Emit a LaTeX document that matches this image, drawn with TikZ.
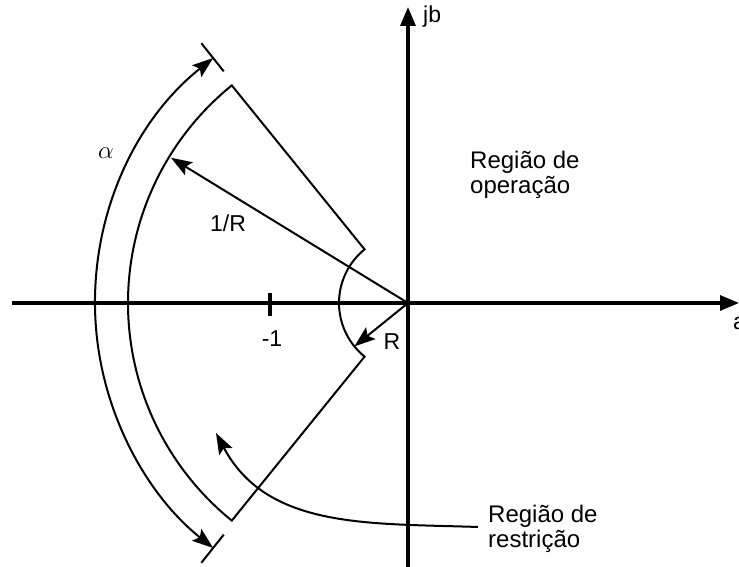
\documentclass[tikz,border=0pt]{standalone}
\usepackage{fontspec}
\setmainfont{Liberation Sans}
\usetikzlibrary{arrows.meta,calc}

\begin{document}
\begin{tikzpicture}[x=1pt,y=1pt,
    axis/.style={line width=3.2pt,-{Triangle[length=19pt,width=15pt]}},
    edge/.style={line width=2pt},
    ptr/.style={line width=2pt,-{Stealth[length=21pt,width=15pt,inset=4pt]}},
    lbl/.style={font=\fontsize{23}{25}\selectfont,inner sep=0pt},
    region/.style={font=\fontsize{24}{25}\selectfont,inner sep=0pt,align=left}]
  \useasboundingbox (-408,-264) rectangle (331,303);
  \coordinate (O) at (0,0);

  % axes
  \coordinate (xl) at (-396,0);
  \coordinate (xr) at (331,0);
  \coordinate (yb) at (0,-264);
  \coordinate (yt) at (0,296);
  \draw[axis] (xl) -- (xr);
  \draw[axis] (yb) -- (yt);
  \node[lbl,anchor=west] (jb) at (15,286) {jb};
  \node[lbl,anchor=west] (re) at (325,-20) {a};

  % tick at -1
  \coordinate (m1) at (-138,0);
  \draw[line width=3.2pt] ([yshift=10pt]m1) -- ([yshift=-13pt]m1);
  \node[lbl] (m1lbl) at (-136,-36) {-1};

  % restricted sector
  \coordinate (ui) at (129:69);
  \coordinate (uo) at (129:280);
  \coordinate (lo) at (231:280);
  \coordinate (li) at (231:69);
  \draw[edge] (ui) -- (uo) arc[start angle=129,end angle=231,radius=280]
    -- (li) arc[start angle=231,end angle=129,radius=69] -- cycle;

  % angle alpha
  \coordinate (ta) at (128.5:313);
  \coordinate (tb) at (231.5:313);
  \draw[edge] (128.5:296) -- (128.5:332);
  \draw[edge] (231.5:296) -- (231.5:332);
  \draw[edge,{Stealth[length=21pt,width=15pt,inset=4pt]}-{Stealth[length=21pt,width=15pt,inset=4pt]}]
    (ta) arc[start angle=128.5,end angle=231.5,radius=313];
  \node[font=\fontsize{28}{28}\selectfont] (alpha) at (-302,150) {$\alpha$};

  % radii
  \coordinate (pR) at (148.5:278);
  \draw[ptr] (O) -- (pR);
  \node[lbl] (invR) at (-180,80) {1/R};
  \coordinate (pr) at (219:69);
  \draw[ptr] (O) -- (pr);
  \node[lbl] (Rl) at (-16,-39) {R};

  % regions
  \node[region,anchor=north west] (oper) at (62,152) {Região de\\operação};
  \node[region,anchor=north west] (restr) at (80,-202) {Região de\\restrição};
  \coordinate (cs) at (70,-224);
  \coordinate (ce) at (-192,-130);
  \draw[ptr] (cs) to[out=178,in=-62] (ce);
\end{tikzpicture}
\end{document}
